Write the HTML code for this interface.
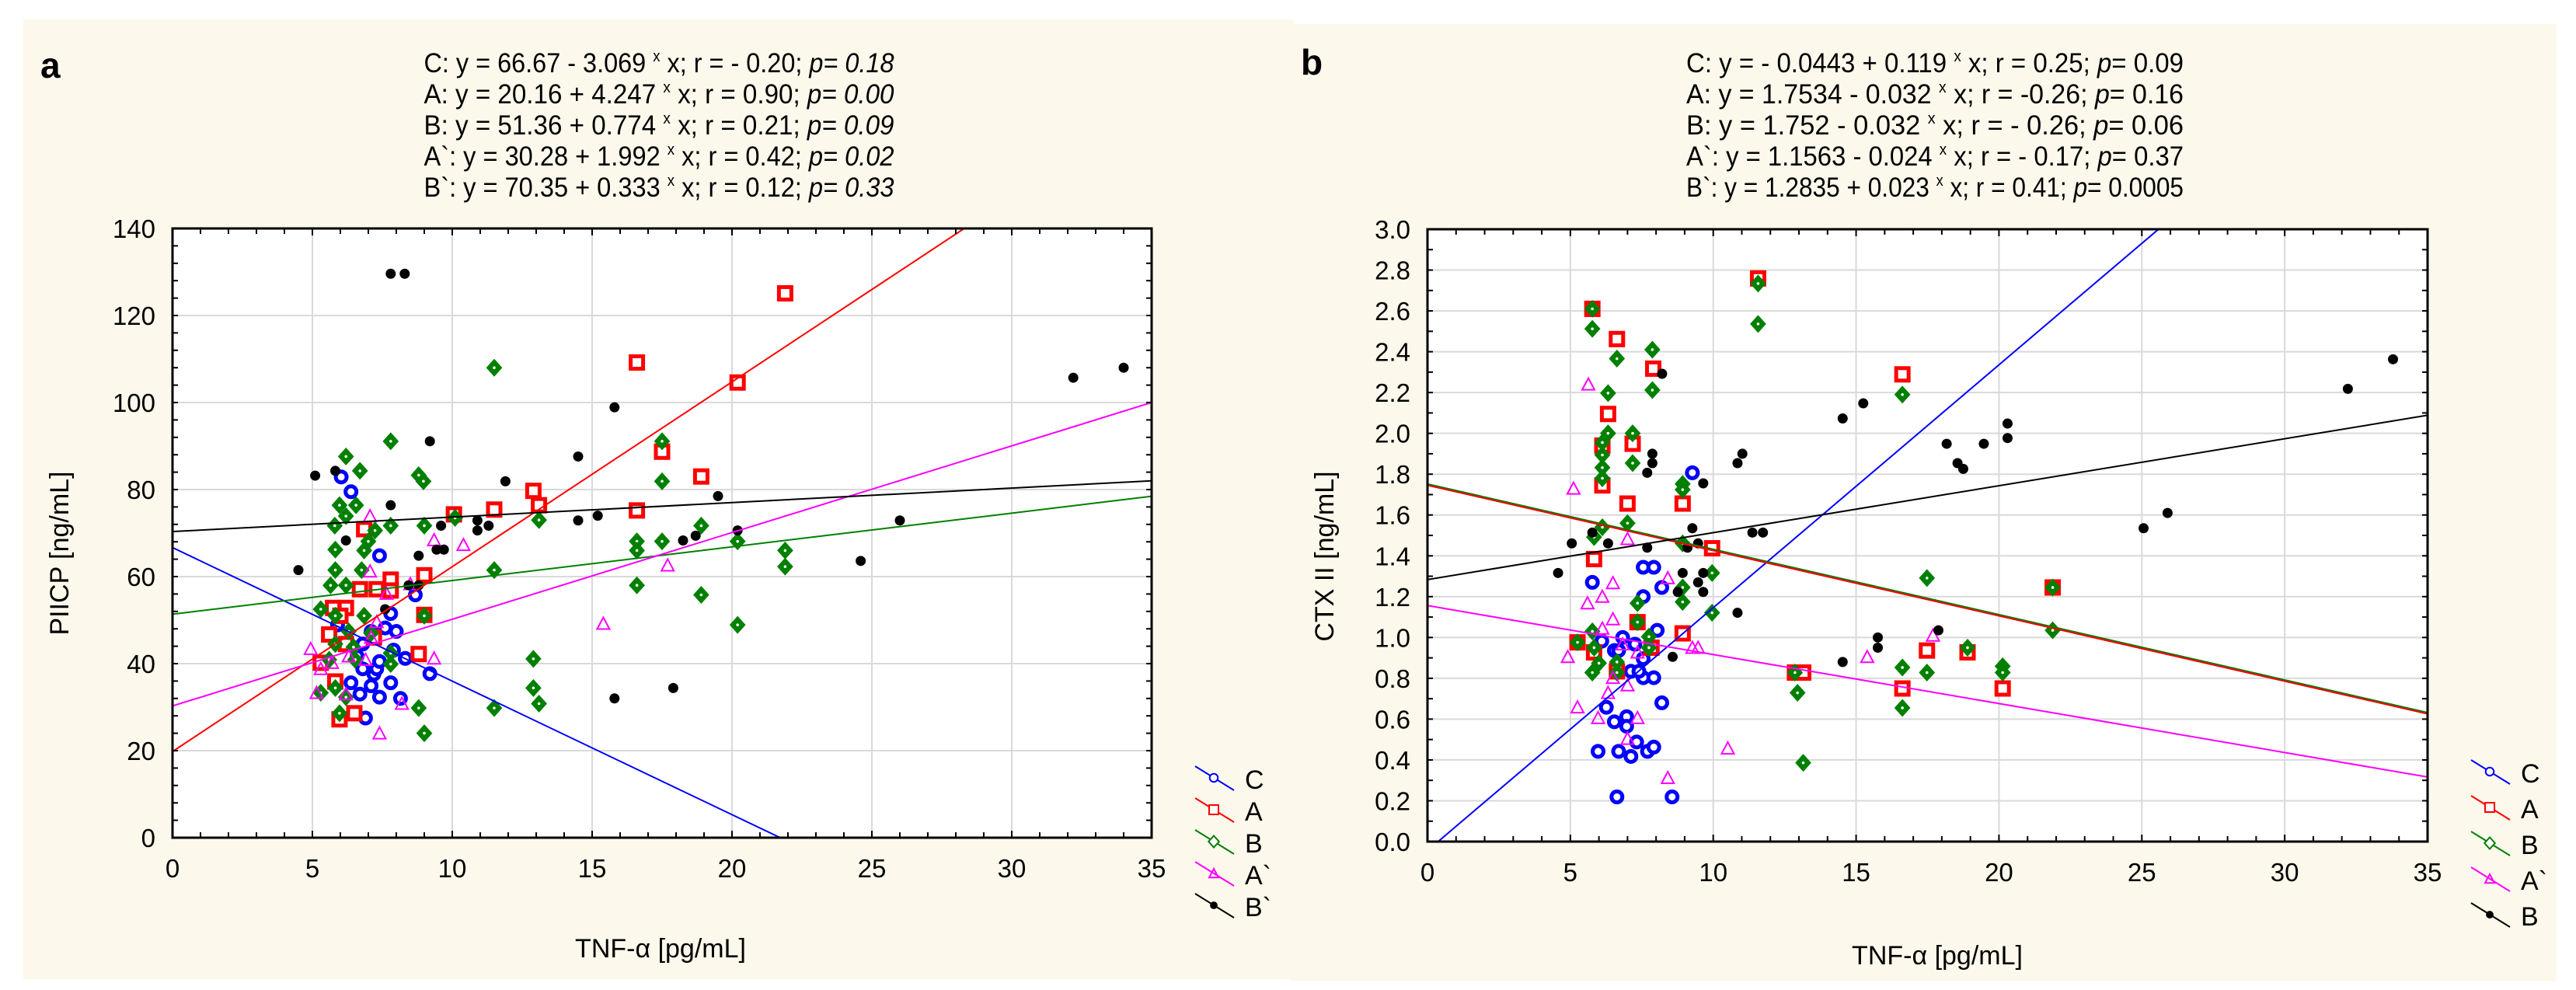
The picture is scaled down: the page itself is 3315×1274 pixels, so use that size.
<!DOCTYPE html>
<html><head><meta charset="utf-8"><style>
html,body{margin:0;padding:0;background:#fff;}
svg{display:block;font-family:"Liberation Sans",sans-serif;}
</style></head><body>
<svg id="root" width="3315" height="1274" viewBox="0 0 3315 1274"></svg>
<script>
// ---- Panel a data (TNF-alpha vs PIICP) ----
const aCx=[6.03,6.38,7.4,8.68,7.8,8.32,9.2,7.8,6.38,7.2,6.7,7.4,8.15,6.9,7.3,6.8,8.0,7.6,7.1,6.8,6.6,5.9,7.4,7.9,7.1];
const aCy=[82.9,79.5,64.8,55.8,51.5,41.2,37.7,35.6,35.6,37.6,33,32.3,32,27.5,38.8,38.8,47.4,48.2,47.4,44.5,41.7,48.9,40.5,43.1,34.9];
const aAx=[21.9,16.6,20.2,17.5,18.9,12.9,13.1,11.5,16.6,10.06,6.85,7.8,9.0,6.7,7.3,7.8,5.74,6.2,6.0,9.0,5.6,7.2,8.8,5.3,5.82,6.5,5.97,6.2];
const aAy=[125.1,109.2,104.6,88.7,83,79.7,76.4,75.4,75.2,74.3,70.9,59.3,60.3,57.1,57.1,56.8,52.8,52.8,51,51.2,46.7,46,42.2,40.2,35.9,28.6,27.2,44.5];
const aBx=[11.5,7.8,17.5,6.2,6.7,8.8,8.97,17.5,5.97,6.56,6.2,10.1,13.1,5.8,7.8,9.0,18.9,7.24,7.0,16.6,17.5,20.2,5.82,6.85,16.6,21.9,21.9,5.82,6.76,11.5,5.65,6.2,16.6,18.9,5.3,5.82,6.85,9.0,20.2,6.3,7.1,5.82,6.47,7.8,5.6,6.53,12.9,7.8,5.82,12.9,5.3,6.2,13.1,11.5,8.8,5.97,9.0];
const aBy=[108,91.1,91.1,87.6,84.3,83.3,81.9,81.9,76.4,76.4,73.9,73.5,73,71.7,71.7,71.7,71.7,70.6,68.1,68.1,68.1,68.1,66.2,66,66,66,62.3,61.5,61.5,61.5,58,58,58,55.8,52.5,51,51,51,48.9,47.4,47,44.5,43.8,42.4,40.9,40.9,41.1,39.9,34.4,34.4,33.3,32.3,30.8,29.8,29.8,28.6,24];
const aA2x=[7.06,9.35,10.4,7.06,7.65,17.7,15.4,4.94,9.35,5.3,5.7,5.15,6.3,8.2,7.4,6.2,7.1,6.9,8.5,7.3];
const aA2y=[73.9,68.4,67.3,61.2,56.1,62.6,49.2,43.4,41.2,38.8,40.2,33.3,41.7,30.8,24,33,46,40.9,58.3,49.6];
const aB2x=[7.8,8.3,15.8,34,32.2,9.2,14.5,5.1,5.82,11.9,19.5,7.8,14.5,15.2,26,10.9,11.3,9.6,10.9,20.2,6.2,18.25,18.7,9.44,9.7,8.8,4.5,24.6,8.44,8.8,7.6,15.8,17.9];
const aB2y=[129.6,129.6,98.9,108,105.7,91.1,87.6,83.2,84.3,81.9,78.5,76.4,72.9,74,72.9,72.9,71.7,71.7,70.6,70.6,68.3,68.3,69.4,66.2,66.2,64.8,61.5,63.6,58,58,52.5,32,34.4];
const aIntercepts=[66.67,20.16,51.36,30.28,70.35];
const aSlopes=[-3.069,4.247,0.774,1.992,0.333];
const aYTicks=["0","20","40","60","80","100","120","140"];
const xTicks=["0","5","10","15","20","25","30","35"];
// ---- Panel b data (TNF-alpha vs CTX II) ----
const bCx=[9.27,7.55,7.92,5.77,8.2,7.55,8.04,6.1,6.83,6.54,7.26,7.55,7.12,7.55,7.92,8.2,6.26,6.97,6.54,6.97,7.32,5.97,6.69,7.12,7.7,7.92,6.63,8.56,6.69,7.4];
const bCy=[1.807,1.344,1.344,1.27,1.245,1.2,1.035,0.982,1.0,0.936,0.967,0.896,0.834,0.803,0.803,0.68,0.658,0.612,0.587,0.565,0.488,0.442,0.442,0.417,0.442,0.463,0.219,0.219,0.936,0.834];
const bAx=[11.57,5.77,6.63,7.9,16.62,6.32,6.12,7.18,6.12,7.0,8.93,9.96,5.83,21.88,8.93,7.35,5.25,5.83,12.86,13.15,17.48,18.9,16.62,20.13,6.63,7.84];
const bAy=[2.759,2.61,2.462,2.317,2.289,2.095,1.94,1.949,1.745,1.656,1.656,1.437,1.384,1.245,1.02,1.075,0.976,0.927,0.828,0.828,0.936,0.927,0.75,0.75,0.834,0.95];
const bBx=[11.57,5.77,5.77,11.57,7.87,6.63,7.87,6.32,16.62,6.32,7.18,6.12,6.12,6.12,6.12,7.18,8.93,8.93,7.0,6.12,5.83,8.93,9.96,17.48,21.88,8.93,8.93,7.35,9.96,7.35,21.88,5.77,7.75,5.25,5.83,7.75,18.9,6.63,20.13,16.62,6.0,5.77,17.48,20.13,12.86,12.95,16.62,13.15,6.63];
const bBy=[2.734,2.61,2.512,2.536,2.41,2.366,2.212,2.197,2.19,2.0,2.0,1.955,1.894,1.832,1.78,1.854,1.752,1.724,1.56,1.54,1.492,1.461,1.316,1.291,1.245,1.245,1.174,1.168,1.121,1.075,1.035,1.03,1.004,0.976,0.95,0.95,0.95,0.88,0.859,0.853,0.874,0.828,0.828,0.828,0.828,0.729,0.655,0.386,0.828];
const bA2x=[5.63,5.11,7.0,6.49,6.12,5.6,8.41,6.49,6.12,4.91,9.27,9.47,6.83,7.35,15.39,17.69,6.32,5.25,5.97,7.35,7.0,7.0,10.51,8.41,6.49];
const bA2y=[2.24,1.73,1.483,1.267,1.2,1.168,1.291,1.09,1.044,0.905,0.95,0.95,0.967,0.927,0.905,1.01,0.729,0.658,0.606,0.606,0.766,0.504,0.457,0.312,0.803];
const bB2x=[33.79,32.21,8.21,15.25,14.53,20.3,20.3,18.17,19.47,11.02,7.87,10.85,7.87,18.55,18.75,7.69,9.65,25.9,25.06,9.27,11.37,11.74,5.77,5.05,6.32,9.47,9.1,7.69,4.57,8.93,9.65,9.47,8.76,9.65,10.85,14.53,8.58,15.76,15.76,17.88];
const bB2y=[2.363,2.218,2.292,2.147,2.073,2.048,1.977,1.949,1.949,1.9,1.9,1.854,1.854,1.854,1.826,1.807,1.755,1.61,1.535,1.535,1.514,1.514,1.514,1.461,1.461,1.461,1.44,1.44,1.316,1.316,1.316,1.27,1.223,1.223,1.121,0.88,0.905,1.0,0.95,1.035];
const bIntercepts=[-0.0443,1.7534,1.752,1.1563,1.2835];
const bSlopes=[0.119,-0.032,-0.032,-0.024,0.023];
const bYTicks=["0.0","0.2","0.4","0.6","0.8","1.0","1.2","1.4","1.6","1.8","2.0","2.2","2.4","2.6","2.8","3.0"];
const legendLabelsA=["C","A","B","A`","B`"];
const legendLabelsB=["C","A","B","A`","B"];

const NS="http://www.w3.org/2000/svg";
const root=document.getElementById('root');
function mk(tag,attrs,parent){const e=document.createElementNS(NS,tag);for(const k in attrs)e.setAttribute(k,attrs[k]);(parent||root).appendChild(e);return e;}
const COLORS=["#0000ff","#ff0000","#008000","#ff00ff","#000000"];
const SHAPES=["circle","square","diamond","triangle","dot"];

function marker(g,shape,cx,cy,s,leg){
  let e;
  if(shape==="circle"){e=mk('circle',{cx:cx,cy:cy,r:7*s,fill:'#fff',stroke:'#0000ff','stroke-width':leg?2:5},g);}
  else if(shape==="square"){e=mk('rect',{x:cx-8*s,y:cy-8*s,width:16*s,height:16*s,fill:'#fff',stroke:'#ff0000','stroke-width':leg?2:5},g);}
  else if(shape==="diamond"){e=mk('polygon',{points:`${cx},${cy-10*s} ${cx+9*s},${cy} ${cx},${cy+10*s} ${cx-9*s},${cy}`,fill:leg?'#fff':'#008000',stroke:'#008000','stroke-width':2},g);
    if(!leg){const d=mk('circle',{cx:cx,cy:cy,r:1.8,fill:'#fff'},g);}}
  else if(shape==="triangle"){e=mk('polygon',{points:`${cx},${cy-8*s} ${cx+8*s},${cy+7*s} ${cx-8*s},${cy+7*s}`,fill:'none',stroke:'#ff00ff','stroke-width':2},g);}
  else {e=mk('circle',{cx:cx,cy:cy,r:6.5*s,fill:'#000'},g);}
  return e;
}

function panel(o){
  const g=mk('g',{});
  
  
  mk('rect',{x:o.bg[0],y:o.bg[1],width:o.bg[2],height:o.bg[3],fill:'#fdf8ec'},g);
  const L=o.L,R=o.R,T=o.T,B=o.B;
  const sx=v=>L+(v-0)/35*(R-L);
  const sy=v=>B-(v-o.ymin)/(o.ymax-o.ymin)*(B-T);
  mk('rect',{x:L,y:T,width:R-L,height:B-T,fill:'#fff'},g);
  for(let i=1;i<7;i++){mk('line',{x1:sx(i*5),x2:sx(i*5),y1:T,y2:B,stroke:'#d9d9d9','stroke-width':2},g);}
  const nY=o.yTicks.length;
  for(let i=1;i<nY-1;i++){const v=o.ymin+i*(o.ymax-o.ymin)/(nY-1);mk('line',{x1:L,x2:R,y1:sy(v),y2:sy(v),stroke:'#d9d9d9','stroke-width':2},g);}
  const cid='clip'+o.name;
  const cp=mk('clipPath',{id:cid},g);mk('rect',{x:L,y:T,width:R-L,height:B-T},cp);
  o.series.forEach((s,si)=>{
    const sg=mk('g',{},g);
    
    
    s.x.forEach((xv,i)=>{
      const m=marker(sg,SHAPES[si],sx(xv),sy(s.y[i]),1,false);
      
      
    });
  });
  const lg=mk('g',{'clip-path':`url(#${cid})`},g);
  [0,2,1,3,4].forEach(i=>{
    const b0=o.ic[i];
    const off=(i===1&&o.ic[1]-o.ic[2]<0.01)?2:0;
    const ln=mk('line',{x1:sx(0),y1:sy(b0)+off,x2:sx(35),y2:sy(b0+o.sl[i]*35)+off,stroke:COLORS[i],'stroke-width':2},lg);
    
    
  });
  mk('rect',{x:L,y:T,width:R-L,height:B-T,fill:'none',stroke:'#000','stroke-width':3},g);
  for(let v=1;v<35;v++){const x=sx(v);
    mk('line',{x1:x,x2:x,y1:B,y2:B-(v%5===0?9:7),stroke:'#000','stroke-width':2},g);
    mk('line',{x1:x,x2:x,y1:T,y2:T+(v%5===0?9:7),stroke:'#000','stroke-width':2},g);}
  const nm=(nY-1)*o.minor;
  for(let i=1;i<nm;i++){const v=o.ymin+i*(o.ymax-o.ymin)/nm;const y=sy(v);
    mk('line',{x1:L,x2:L+7,y1:y,y2:y,stroke:'#000','stroke-width':2},g);
    mk('line',{x1:R,x2:R-7,y1:y,y2:y,stroke:'#000','stroke-width':2},g);}
  xTicks.forEach((t,i)=>{const e=mk('text',{x:sx(i*5),y:o.xlabY,'font-size':33,'text-anchor':'middle',fill:'#000'},g);e.textContent=t;
    });
  o.yTicks.forEach((t,i)=>{const v=o.ymin+i*(o.ymax-o.ymin)/(nY-1);const e=mk('text',{x:o.ylabX,y:sy(v)+12,'font-size':33,'text-anchor':'end',fill:'#000'},g);e.textContent=t;
    });
  const xt=mk('text',{x:o.xTitle[0],y:o.xTitle[1],'font-size':34,'text-anchor':'middle'},g);xt.textContent='TNF-α [pg/mL]';
  
  const yt=mk('text',{x:0,y:0,'font-size':34,'text-anchor':'middle',transform:`translate(${o.yTitle[0]},${o.yTitle[1]}) rotate(-90)`},g);yt.textContent=o.yTitleText;
  
  const pl=mk('text',{x:o.letter[0],y:o.letter[1],'font-size':46,'font-weight':'bold'},g);pl.textContent=o.letterText;
  
  o.eqs.forEach((eq,i)=>{
    const t=mk('text',{x:o.eqX,y:93+i*40,'font-size':35,'text-anchor':'middle',textLength:o.eqW,lengthAdjust:'spacingAndGlyphs'},g);
    
    
    const p1=mk('tspan',{},t);p1.textContent=eq[0];
    const p2=mk('tspan',{'font-size':20,dy:-14},t);p2.textContent='x';
    const p3=mk('tspan',{dy:14},t);p3.textContent=eq[1];
    const p4=mk('tspan',{'font-style':'italic'},t);p4.textContent='p';
    const p5=mk('tspan',{'font-style':o.italP?'italic':'normal'},t);p5.textContent=eq[2];
  });
  o.legLabels.forEach((lab,i)=>{
    const y=o.leg[1]+i*o.leg[2];
    const lgI=mk('g',{},g);
    
    
    mk('line',{x1:o.leg[0],y1:y-17,x2:o.leg[0]+50,y2:y+14,stroke:COLORS[i],'stroke-width':2},lgI);
    marker(lgI,SHAPES[i],o.leg[0]+24,y-2,0.75,true);
    const t=mk('text',{x:o.leg[0]+64,y:y+12,'font-size':34},lgI);t.textContent=lab;
  });
  return g;
}

panel({name:'panel-a',bg:[30,25,1635,1235],L:222,R:1482,T:294,B:1078,ymin:0,ymax:140,minor:5,yTicks:aYTicks,
  series:[{label:'C',x:aCx,y:aCy},{label:'A',x:aAx,y:aAy},{label:'B',x:aBx,y:aBy},{label:'A`',x:aA2x,y:aA2y},{label:'B`',x:aB2x,y:aB2y}],
  ic:aIntercepts,sl:aSlopes,xlabY:1129,ylabX:200,xTitle:[850,1232],yTitle:[88,712],yTitleText:'PIICP [ng/mL]',
  letter:[52,100],letterText:'a',eqX:848,eqW:605,italP:true,
  eqs:[["C: y = 66.67 - 3.069 "," x;  r = - 0.20; ","= 0.18"],["A: y = 20.16 + 4.247 "," x;  r =  0.90; ","= 0.00"],["B: y = 51.36 + 0.774 "," x;   r =  0.21; ","= 0.09"],["A`: y =  30.28 + 1.992 "," x; r =  0.42; ","= 0.02"],["B`: y = 70.35 + 0.333 "," x;  r =  0.12; ","= 0.33"]],
  legLabels:legendLabelsA,leg:[1538,1003,41]});
panel({name:'panel-b',bg:[1660,31,1630,1231],L:1837,R:3124,T:295,B:1083,ymin:0,ymax:3.0,minor:2,yTicks:bYTicks,
  series:[{label:'C',x:bCx,y:bCy},{label:'A',x:bAx,y:bAy},{label:'B',x:bBx,y:bBy},{label:'A`',x:bA2x,y:bA2y},{label:'B`',x:bB2x,y:bB2y}],
  ic:bIntercepts,sl:bSlopes,xlabY:1134,ylabX:1815,xTitle:[2493,1241],yTitle:[1716,716],yTitleText:'CTX II [ng/mL]',
  letter:[1674,96],letterText:'b',eqX:2490,eqW:640,italP:false,
  eqs:[["C: y = - 0.0443 + 0.119 "," x; r =  0.25; ","= 0.09"],["A: y =  1.7534 - 0.032 "," x; r =  -0.26; ","= 0.16"],["B:  y =   1.752 - 0.032 "," x; r = - 0.26; ","= 0.06"],["A`:  y =  1.1563 - 0.024 "," x; r = - 0.17; ","= 0.37"],["B`: y = 1.2835 + 0.023 "," x; r =  0.41; ","= 0.0005"]],
  legLabels:legendLabelsB,leg:[3180,995,46]});
</script>
</body></html>
